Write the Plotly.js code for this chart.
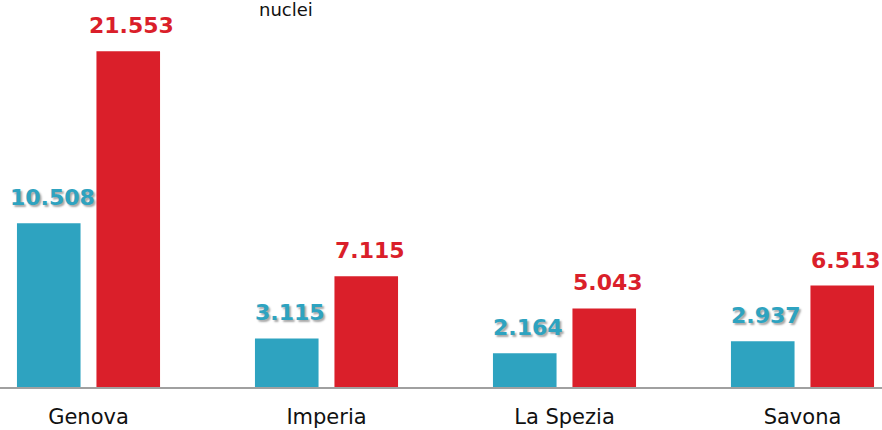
<!DOCTYPE html>
<html>
<head>
<meta charset="utf-8">
<script src="https://cdn.plot.ly/plotly-3.0.1.min.js"></script>
<style>html,body{margin:0;padding:0;background:#fff;}#chart{width:882px;height:430px;}</style>
</head>
<body>
<div id="chart"></div>
<script>
var categories = ["Genova", "Imperia", "La Spezia", "Savona"];
var seriesA = [10508, 3115, 2164, 2937];
var seriesB = [21553, 7115, 5043, 6513];
var titleText = "nuclei";

function fmt(v) {
  return String(v).replace(/\B(?=(\d{3})+(?!\d))/g, ".");
}

var blue = "rgb(46,163,192)";
var red = "rgb(218,31,42)";
var fontFam = "'DejaVu Sans', sans-serif";

var traces = [
  {type: "bar", x: categories, y: seriesA, marker: {color: blue}, hoverinfo: "none"},
  {type: "bar", x: categories, y: seriesB, marker: {color: red}, hoverinfo: "none"}
];

var annotations = [];
categories.forEach(function (c, i) {
  annotations.push({x: c, y: seriesA[i], xref: "x", yref: "y", text: "<b>" + fmt(seriesA[i]) + "</b>",
    showarrow: false, xanchor: "center", yanchor: "bottom", xshift: -36.5, yshift: 11,
    font: {family: fontFam, size: 22, color: blue, shadow: "2px 2px 2px rgba(0,0,0,0.35)"}});
  annotations.push({x: c, y: seriesB[i], xref: "x", yref: "y", text: "<b>" + fmt(seriesB[i]) + "</b>",
    showarrow: false, xanchor: "center", yanchor: "bottom", xshift: 43, yshift: 11,
    font: {family: fontFam, size: 22, color: red}});
});
annotations.push({x: 286 / 882, y: 1, xref: "paper", yref: "paper", text: titleText, showarrow: false,
  xanchor: "center", yanchor: "top", yshift: 3, font: {family: fontFam, size: 18, color: "#111"}});

var layout = {
  width: 882, height: 430,
  margin: {l: 0, r: 0, t: 0, b: 43},
  paper_bgcolor: "#fff", plot_bgcolor: "#fff",
  showlegend: false,
  barmode: "group",
  bargap: 0.332,
  bargroupgap: 0.2,
  xaxis: {
    type: "category",
    range: [-88.5 / 238, (882 - 88.5) / 238],
    showgrid: false, zeroline: false,
    showline: true, linecolor: "rgb(160,160,160)", linewidth: 2,
    ticks: "", ticklabelstandoff: 10,
    tickfont: {family: fontFam, size: 21, color: "#111"}
  },
  yaxis: {
    range: [0, 387 / 0.01558],
    visible: false, showgrid: false, zeroline: false
  },
  annotations: annotations
};

Plotly.newPlot("chart", traces, layout, {displayModeBar: false, staticPlot: true});
</script>
</body>
</html>
